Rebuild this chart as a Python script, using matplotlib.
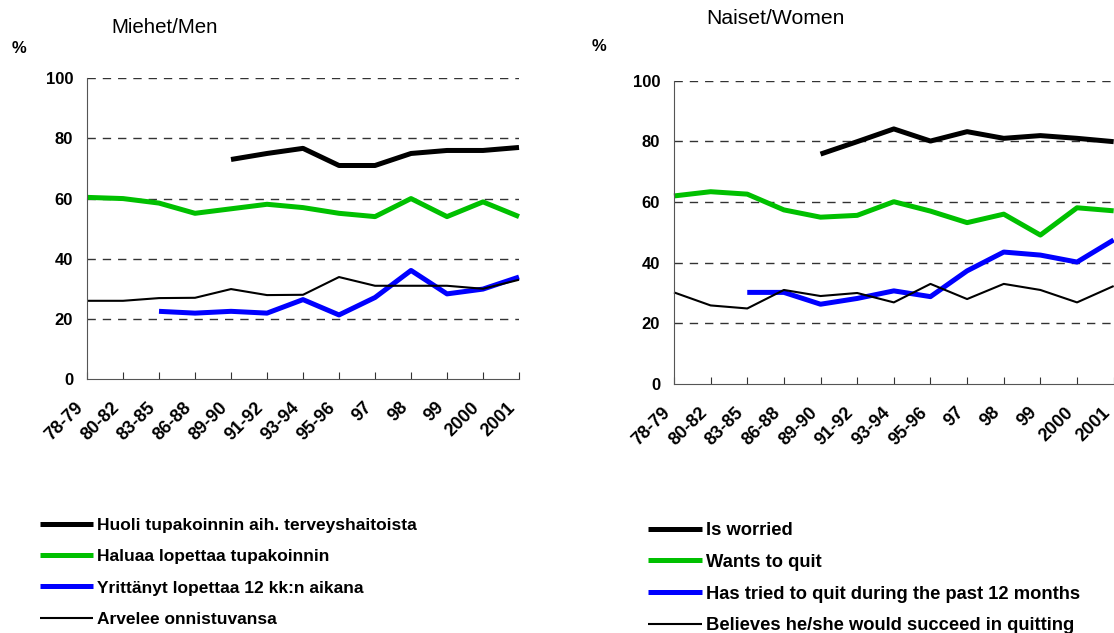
import matplotlib.pyplot as plt
import matplotlib.transforms as mtransforms
import numpy as np

plt.rcParams['font.family'] = ['Liberation Sans', 'DejaVu Sans']

periods = ['78-79', '80-82', '83-85', '86-88', '89-90', '91-92', '93-94',
           '95-96', '97', '98', '99', '2000', '2001']
nan = np.nan

# Men
men_worried = [nan, nan, nan, nan, 73, 75, 76.7, 71, 71, 75, 76, 76, 77]
men_wants = [60.4, 60, 58.5, 55.1, 56.6, 58.1, 57, 55.1, 54, 60, 54, 58.9, 54]
men_tried = [nan, nan, 22.5, 21.9, 22.5, 21.9, 26.4, 21.3, 27.1, 36.1, 28.3, 29.9, 33.9]
men_succeed = [26, 26, 26.9, 27, 29.9, 27.9, 28, 33.9, 31, 31, 31, 30, 33]

# Women
women_worried = [nan, nan, nan, nan, 75.8, 79.9, 84.1, 80.1, 83.2, 81, 81.9, 81, 79.9]
women_wants = [62, 63.4, 62.6, 57.4, 55, 55.6, 60.1, 57, 53.2, 56, 49.1, 58.1, 57.1]
women_tried = [nan, nan, 30.2, 30.2, 26.3, 28.2, 30.7, 28.8, 37.3, 43.5, 42.5, 40.2, 47.5]
women_succeed = [30.2, 25.9, 24.9, 31, 29, 30, 26.9, 33, 28, 33, 31, 26.9, 32.3]

labels_fi = ['Huoli tupakoinnin aih. terveyshaitoista', 'Haluaa lopettaa tupakoinnin',
             'Yrittänyt lopettaa 12 kk:n aikana', 'Arvelee onnistuvansa']
labels_en = ['Is worried', 'Wants to quit', 'Has tried to quit during the past 12 months',
             'Believes he/she would succeed in quitting']

colors = ['black', '#00c000', '#0000ff', 'black']
widths = [3.6, 3.6, 3.6, 1.5]

fig = plt.figure(figsize=(11.14, 6.33), dpi=100)
ax1 = fig.add_axes([0.0781, 0.4013, 0.3878, 0.475])
ax2 = fig.add_axes([0.605, 0.3934, 0.3947, 0.4791])

x = np.arange(len(periods))
shift = mtransforms.ScaledTranslation(-3 / 100, 0, fig.dpi_scale_trans)


def draw(ax, series, labels):
    lines = []
    for s, c, w, lab in zip(series, colors, widths, labels):
        ln, = ax.plot(x, s, color=c, lw=w, label=lab, solid_capstyle='butt', clip_on=False)
        lines.append(ln)
    ax.set_xlim(0, len(periods) - 1)
    ax.set_ylim(0, 100)
    ax.set_yticks([0, 20, 40, 60, 80, 100])
    ax.set_xticks(x)
    ax.set_xticklabels(periods, rotation=45, ha='right', va='bottom',
                       rotation_mode='anchor', fontsize=13, fontweight='bold')
    for t in ax.get_xticklabels():
        t.set_transform(t.get_transform() + shift)
    for t in ax.get_yticklabels():
        t.set_fontsize(12)
        t.set_fontweight('bold')
    ax.tick_params(axis='x', direction='in', length=5, pad=23, color='#333333')
    ax.tick_params(axis='y', length=0, pad=10)
    for yv in [20, 40, 60, 80, 100]:
        ax.axhline(yv, color='#333333', lw=1.0, ls=(0, (6, 5)), zorder=0)
    ax.spines['top'].set_visible(False)
    ax.spines['right'].set_visible(False)
    ax.spines['left'].set_color('#555555')
    ax.spines['bottom'].set_color('#555555')
    return lines


h1 = draw(ax1, [men_worried, men_wants, men_tried, men_succeed], labels_fi)
h2 = draw(ax2, [women_worried, women_wants, women_tried, women_succeed], labels_en)

fig.text(0.100, 0.957, 'Miehet/Men', fontsize=14.8, ha='left', va='center')
fig.text(0.634, 0.970, 'Naiset/Women', fontsize=15.2, ha='left', va='center')
fig.text(0.010, 0.923, '%', fontsize=12, fontweight='bold', ha='left', va='center')
fig.text(0.531, 0.927, '%', fontsize=12, fontweight='bold', ha='left', va='center')

fig.legend(h1, labels_fi, loc='upper left', bbox_to_anchor=(0.036, 0.182),
           frameon=False, handlelength=3.05, handletextpad=0.23, labelspacing=0.93,
           borderpad=0, borderaxespad=0, prop={'size': 12.5, 'weight': 'bold'})
fig.legend(h2, labels_en, loc='upper left', bbox_to_anchor=(0.5817, 0.175),
           frameon=False, handlelength=2.95, handletextpad=0.22, labelspacing=0.8,
           borderpad=0, borderaxespad=0, prop={'size': 13.2, 'weight': 'bold'})

fig.savefig('out.png', dpi=100)
